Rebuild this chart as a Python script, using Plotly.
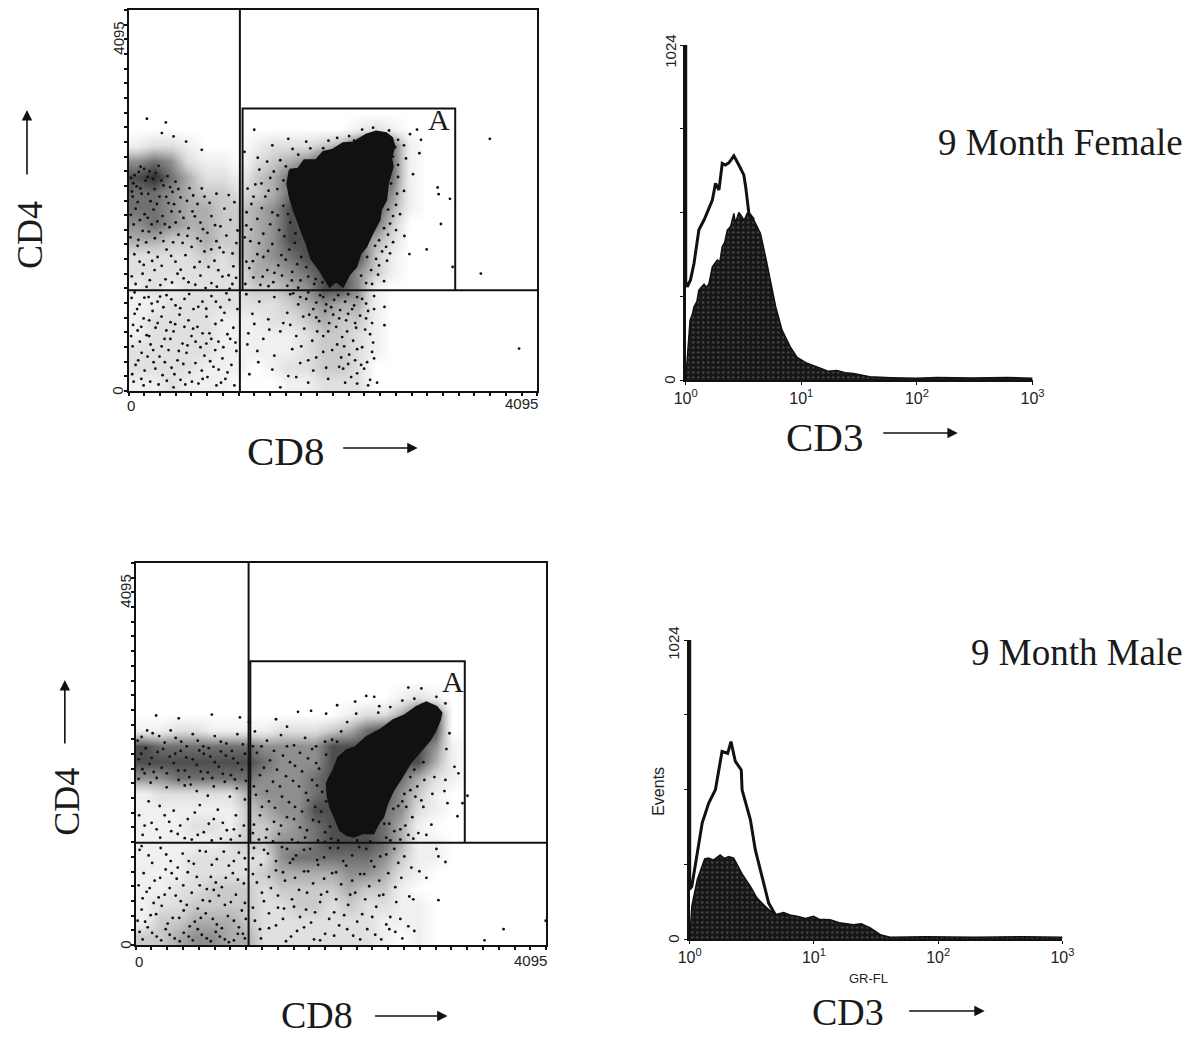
import plotly.graph_objects as go

# ---- data (channels 0-4095) ----
female_x_gate = 1115
female_y_gate = 1083
female_box = [1142, 3273, 3037]
male_x_gate = 1127
male_y_gate = 1096
male_box = [1144, 3283, 3042]

female_core_x = [1615,1700,1760,1881,1950,2040,2148,2250,2381,2480,2581,2640,2664,2630,2647,2600,2581,2530,2514,2440,2381,2320,2281,2210,2148,2080,2015,1960,1915,1830,1782,1740,1682,1650,1615,1590]
female_core_y = [2377,2390,2480,2484,2570,2590,2664,2670,2754,2790,2771,2720,2628,2510,2412,2240,2053,1950,1838,1690,1551,1470,1335,1250,1120,1180,1120,1220,1300,1420,1587,1700,1874,1960,2089,2230]
male_core_x = [1973,2020,2106,2190,2305,2430,2570,2680,2802,2900,3001,3050,3034,2990,2935,2840,2736,2650,2570,2510,2470,2420,2371,2270,2172,2100,2039,1990,1940,1915,1907,1935]
male_core_y = [1874,2010,2088,2120,2231,2300,2410,2460,2553,2600,2553,2490,2410,2300,2196,2080,1946,1790,1660,1520,1374,1300,1196,1200,1160,1180,1232,1360,1482,1600,1731,1800]

# ink density per cell (24 x 24), top row first
female_density = [
"","","","","","","",
"0000000000000121",
"12210001222347761",
"56521102345777761",
"78642213467777761",
"66543323467777751",
"66544334577777741",
"56544334577777630",
"44334334577776420",
"2222323456777731",
"2222222445677531",
"1212222334577510",
"1122222223454410",
"1222211122343310",
"1222211111233210",
"2222211111233210",
"2222111012233200",
"1121110001122200",
]
male_density = [
"","","","","","","","",
"000000000000000121",
"000000000000122477",
"112211112223467777",
"7666666555577777751",
"7777777655577777741",
"5566666555677776421",
"1222224555677775310",
"1111113455777765210",
"111221334567776410",
"111112335567776411",
"111222225666665311",
"111222234444554210",
"112233323333433100",
"122333322332322110",
"13344432222222111",
"33455442222222101",
]

female_dots = [
(183,2926),(373,2887),(333,2772),(450,2736),(576,2681),(733,2592),(1259,2808),(3620,2710),(2914,2556),(3097,2187),(3107,2115),(3220,2065),(3130,1795),(2764,1666),(2987,1522),(2814,1472),(3247,1334),(3530,1262),(2564,904),(2564,707),(3913,456),
(2700,2700),(2760,2640),(2820,2760),(2890,2810),(2930,2700),(2780,2500),(2850,2330),(2700,2300),(2760,2150),(2680,2000),(2720,1900),(2620,1800),(2600,1680),(2650,1600),(2540,1500),(2590,1400),(2480,1420),(2430,1300),(2500,1250),(2440,1150),(2560,1180),
(1440,2640),(1600,2710),(1780,2680),(1950,2610),(2090,2720),(1520,2480),(1700,2540),(1310,2380),(1420,2290),(1270,2220),(1490,2170),(1370,2090),(1230,2010),(1550,1990),(1440,1920),(1290,1850),(1180,1780),(1620,1810),(1510,1730),(1350,1690),(1220,1610),(1440,1580),(1610,1520),(1730,1440),(1290,1470),(1180,1390),(1500,1350),(1390,1300),(1640,1280),(1800,1230),(1250,1220),(1170,1150),(1450,1170),(1590,1130),(1700,1110),(1860,1150),(1320,1140),
(60,2320),(120,2410),(210,2360),(300,2420),(390,2310),(470,2250),(80,2200),(170,2260),(260,2170),(350,2210),(440,2140),(40,2090),(130,2120),(220,2040),(310,2090),(400,2020),(520,2080),(610,2180),(690,2010),(760,2090),(880,2120),(960,1960),(1060,2030),(70,1960),(160,1900),(250,1950),(340,1880),(430,1930),(550,1860),(640,1930),(720,1810),(830,1880),(920,1770),(1020,1840),(50,1790),(140,1720),(230,1790),(320,1700),(410,1760),(500,1680),(600,1750),(690,1640),(790,1700),(880,1610),(980,1670),(1080,1590),
(90,1560),(200,1490),(290,1440),(110,1390),(380,1520),(470,1390),(570,1460),(660,1330),(760,1500),(860,1400),(950,1490),(1050,1340),(140,1260),(260,1300),(370,1200),(490,1260),(600,1170),(720,1240),(830,1160),(940,1230),(1040,1150),(70,1150),(180,1120),
(30,1000),(110,930),(200,1010),(290,960),(380,1030),(470,920),(560,990),(650,880),(740,960),(830,1020),(920,900),(1010,980),(1090,880),(60,830),(150,780),(240,860),(330,800),(420,740),(510,820),(600,760),(690,690),(780,800),(870,720),(960,840),(1050,680),(90,650),(180,600),(270,680),(360,560),(450,640),(540,510),(630,590),(720,470),(810,620),(900,530),(990,610),(1080,430),(40,480),(130,410),(220,500),(310,370),(400,440),(490,330),(580,410),(670,300),(760,380),(850,260),(940,350),(1030,280),(70,280),(160,220),(250,310),(340,170),(430,250),(520,120),(610,200),(700,80),(790,150),(880,60),(970,130),(1060,60),(50,100),(150,60),(300,70),(450,40),
(1180,1040),(1310,960),(1460,1010),(1620,1040),(1780,990),(1920,1030),(2060,980),(2200,1040),(2340,990),(2460,1020),(1700,930),(1850,880),(1980,930),(2120,870),(2260,920),(2400,860),(1240,830),(1400,770),(1590,840),(1750,800),(1910,750),(2050,820),(2180,760),(2320,810),(2440,730),(1200,620),(1350,560),(1520,640),(1680,590),(1840,540),(2000,640),(2140,580),(2280,680),(2420,610),(1290,430),(1460,380),(1640,450),(1800,330),(1950,420),(2090,500),(2210,390),(2340,470),(2460,350),(1210,180),(1600,160),(1850,220),(2000,130),(2110,260),(2230,150),(2360,240),(2420,120),(2490,90),
]
female_dots_more = [
(25,2290),(47,2233),(102,2355),(155,2388),(189,2301),(243,2279),(271,2344),(328,2262),(416,2192),(498,2171),(33,2144),(91,2031),(118,2177),(197,2119),(283,2011),(377,2087),(455,2008),(585,2044),(647,2101),(733,2177),(812,2021),(1003,2106),
(22,1894),(113,1837),(191,1861),(203,1713),(288,1823),(362,1794),(472,1811),(513,1929),(589,1667),(664,1877),(745,1739),(866,1782),(1092,1725),(19,1652),(98,1625),(176,1598),(263,1642),(349,1611),(446,1598),(541,1592),(631,1548),(723,1611),(828,1522),(912,1541),(1041,1478),
(57,1470),(151,1355),(236,1398),(331,1345),(426,1452),(522,1303),(713,1388),(801,1333),(899,1299),(1002,1244),(1077,1216),(31,1232),(212,1191),(318,1138),(435,1166),(551,1211),(668,1142),(771,1106),(884,1121),(1012,1098),
(1161,2571),(1294,2507),(1388,2466),(1455,2359),(1576,2414),(1643,2601),(1821,2608),(2003,2690),(1192,2176),(1331,2231),(1552,2263),(1251,2089),(1402,2153),(1611,2129),(1182,1921),(1334,1966),(1495,1887),(1596,1902),(1228,1736),(1419,1791),(1561,1664),(1672,1695),(1163,1652),(1307,1588),(1398,1505),(1531,1461),(1666,1592),(1245,1395),(1350,1440),(1461,1269),(1575,1412),(1690,1363),(1780,1331),(1210,1321),(1343,1229),(1537,1241),(1722,1189),(1875,1204),(1402,1127),(1636,1189),(1943,1168),
(2650,2520),(2700,2430),(2630,2230),(2690,2120),(2600,1950),(2650,1880),(2560,1750),(2680,1730),(2510,1620),(2580,1550),(2470,1560),(2390,1440),(2330,1240),(2380,1160),(2510,1350),(2620,1480),(2670,2620),(2610,2800),(2340,2810),(2450,2830),(2210,2740),(2260,2690),
(60,1060),(85,880),(158,1003),(231,940),(315,1015),(349,900),(428,985),(517,890),(607,1042),(698,905),(778,884),(875,960),(980,1050),(45,710),(127,690),(206,760),(291,730),(378,650),(466,718),(559,690),(646,670),(741,620),(828,560),(934,760),(1018,560),(25,590),(112,530),(206,590),(246,440),(331,480),(418,560),(503,430),(590,490),(671,530),(779,510),(868,440),(949,470),(1071,520),(96,330),(190,370),(268,240),(363,310),(459,180),(548,290),(634,100),(733,220),(817,320),(902,230),(991,200),(36,180),(127,130),(216,100),(383,110),(568,70),(742,130),(926,90),
(1650,1050),(1720,1010),(1800,1060),(1880,950),(1950,1010),(2030,900),(2100,1030),(2170,960),(2240,880),(2290,1010),(2380,940),(1810,820),(1880,790),(1970,860),(2010,730),(2110,780),(2200,830),(2270,730),(2380,780),(2460,880),(1620,710),(1760,670),(1890,640),(1950,590),(2080,690),(2190,640),(2250,540),(2370,660),(2450,520),(1730,480),(1880,360),(2040,440),(2130,360),(2160,480),(2270,330),(2290,450),(2390,310),(2440,420),(2150,240),(2200,290),(2290,190),(2330,280),(2170,90),(2290,80),(2400,60),(1980,250),(1720,300),(1440,230),(1300,310),(1190,500),(1260,720),(1410,660),(1550,730),(1680,150),(1800,90),(1520,40)
]

male_dots = [
(205,2460),(430,2430),(760,2470),(1040,2440),(1130,2390),(1400,2420),(1620,2500),(1750,2510),(1900,2480),(2010,2570),(2300,2670),(2380,2660),(2720,2760),(2850,2750),(3000,2660),(3090,2590),(2190,2610),(2420,2490),(1510,2340),
(3130,2270),(3100,2100),(3180,1910),(3220,1840),(3090,1770),(3110,1520),(3260,1520),(3210,1380),(3080,1650),(2980,1800),(2960,1620),(2870,1480),(3310,1600),(3480,50),(3670,170),(4090,260),(3020,950),(3000,1030),(3090,890),(2830,790),(2900,720),(2770,490),(2730,520),(3020,480),(2720,200),(2780,150),
(60,2230),(170,2270),(290,2170),(400,2220),(510,2130),(620,2190),(730,2110),(850,2180),(960,2080),(1070,2150),(100,2110),(220,2070),(340,2020),(450,2080),(570,1990),(680,2050),(790,1960),(900,2030),(1020,1950),(30,1990),(140,1940),(260,1900),(380,1950),(490,1870),(610,1930),(720,1850),(830,1910),(950,1820),(1060,1880),(90,1840),(210,1790),(430,1770),(550,1720),(670,1780),(780,1700),(890,1750),(1010,1680),
(130,1540),(240,1490),(380,1440),(290,1390),(160,1310),(520,1350),(640,1500),(730,1300),(820,1450),(910,1230),(1000,1390),(1080,1280),(70,1180),(420,1190),(560,1130),(850,1140),(950,1130),
(1190,2290),(1310,2190),(1450,2250),(1580,2140),(1690,2220),(1800,2130),(1210,2060),(1340,1980),(1470,2030),(1590,1920),(1720,2000),(1830,1890),(1240,1820),(1370,1750),(1500,1810),(1630,1700),(1760,1770),(1860,1640),(1200,1610),(1330,1540),(1460,1590),(1590,1480),(1720,1550),(1850,1430),(1240,1390),(1380,1320),(1510,1370),(1640,1260),(1770,1340),(1890,1210),(1170,1200),(1300,1150),(1430,1190),(1560,1130),(1690,1150),(1820,1120),(1950,1140),
(2560,2060),(2660,2150),(2740,1800),(2680,1620),(2810,1700),(2620,1490),(2760,1370),(2530,1300),(2640,1240),(2850,1550),(2500,1150),(2720,1180),(2820,1200),(2950,1290),
(40,1020),(130,960),(250,1040),(350,900),(470,980),(580,870),(700,1000),(810,920),(930,850),(1030,990),(1100,810),(80,770),(190,690),(300,810),(410,710),(520,780),(640,640),(750,730),(860,620),(970,770),(1080,660),(110,570),(230,510),(340,610),(450,470),(560,560),(670,480),(780,590),(890,430),(1000,540),(1090,450),(60,380),(150,320),(260,420),(370,290),(480,370),(590,250),(700,340),(810,220),(920,310),(1030,190),(1100,280),(40,140),(120,190),(210,90),(300,170),(390,70),(480,130),(570,50),(660,110),(750,40),(840,90),(930,30),(1020,120),
(1180,1040),(1320,980),(1460,1050),(1600,960),(1740,1030),(1880,940),(2020,1040),(2160,960),(2300,1030),(2440,950),(2580,1030),(2680,950),(1250,860),(1400,800),(1540,880),(1680,790),(1820,860),(1960,770),(2100,850),(2240,760),(2380,840),(2520,770),(2650,720),(1210,670),(1350,610),(1490,690),(1630,590),(1770,660),(1910,570),(2050,650),(2190,560),(2330,630),(2470,540),(1280,470),(1420,400),(1560,490),(1700,380),(1840,460),(1980,350),(2120,430),(2260,330),(2400,410),(2540,300),(1190,260),(1330,180),(1470,280),(1610,150),(1750,240),(1890,120),(2030,210),(2170,100),(2310,170),(2450,60),(2590,140),(1250,70),(1500,40),(1780,60),
]
male_dots_more = [
(20,2190),(115,2300),(235,2240),(350,2300),(455,2180),(570,2260),(675,2130),(790,2240),(905,2160),(1015,2260),(55,2050),(160,2005),(275,2100),(395,2050),(505,2010),(635,2085),(745,2020),(850,2075),(975,2000),(1090,2050),(68,1885),(180,1855),(312,1840),(425,1870),(535,1800),(650,1860),(765,1790),(870,1835),(990,1775),(1100,1760),(30,1780),(150,1740),(310,1690),(490,1710),(610,1650),(720,1600),(940,1590),(1090,1560),
(35,1390),(90,1280),(210,1240),(335,1320),(445,1280),(590,1420),(680,1210),(780,1350),(870,1310),(980,1240),(1040,1170),(245,1150),(355,1220),(490,1145),(620,1180),(760,1120),
(1170,2130),(1255,2130),(1380,2080),(1510,2130),(1640,2060),(1760,2100),(1890,2180),(1280,1900),(1410,1880),(1540,1960),(1660,1860),(1800,1950),(1180,1700),(1310,1650),(1440,1700),(1570,1760),(1700,1630),(1810,1710),(1260,1480),(1390,1470),(1530,1530),(1660,1430),(1790,1480),(1900,1540),(1180,1290),(1310,1240),(1450,1280),(1580,1350),(1710,1230),(1830,1320),(1940,1270),(1230,1130),(1370,1110),(1620,1100),(1890,1105),(2020,1120),(2210,1120),(2340,1110),
(2610,1960),(2700,2050),(2780,1880),(2870,1960),(2640,1800),(2740,1660),(2880,1770),(2570,1720),(2660,1540),(2570,1460),(2700,1480),(2790,1590),(2480,1300),(2580,1220),(2690,1280),(2770,1140),(2900,1180),(2540,1120),(2640,1130),(2960,2330),(3040,2470),(2920,2460),(2860,2580),(2780,2640),(2660,2620),(2540,2550),(2430,2560),(2110,2390),(2200,2480),(2050,2290),(1960,2200),(1900,2040),(2010,2180),
(60,1060),(165,880),(305,970),(420,830),(530,900),(640,1010),(760,860),(880,1000),(980,900),(1090,930),(30,640),(140,610),(245,720),(360,770),(475,640),(610,730),(710,600),(800,670),(900,720),(1020,700),(70,500),(180,450),(290,540),(400,530),(510,430),(620,390),(740,470),(830,530),(950,460),(1060,370),(20,260),(95,250),(205,330),(320,230),(435,290),(540,200),(650,290),(770,280),(860,180),(980,260),(1070,120),(70,60),(165,130),(255,50),(340,110),(440,40),(530,90),(620,170),(710,70),(800,140),(890,60),(980,50),(1090,70),
(1170,930),(1280,1020),(1400,900),(1510,1030),(1570,920),(1680,1020),(1810,910),(1940,1040),(2070,900),(2230,1050),(2350,900),(2500,970),(2620,880),(2750,830),(1170,760),(1330,730),(1470,780),(1590,720),(1720,790),(1880,710),(2000,780),(2160,690),(2280,760),(2430,690),(2590,620),(1260,560),(1420,530),(1580,410),(1710,560),(1850,540),(2000,490),(2140,540),(2290,490),(2430,530),(2600,460),(1170,400),(1330,340),(1480,390),(1640,300),(1790,350),(1930,280),(2080,320),(2210,250),(2360,300),(2500,220),(2640,280),(1240,170),(1400,210),(1550,90),(1680,190),(1840,50),(1980,100),(2110,170),(2240,60),(2390,110),(2530,170),(2660,70)
]

female_open_x = [1.0,1.0,1.03,1.10,1.18,1.30,1.44,1.54,1.70,1.81,1.94,2.07,2.2,2.36,2.61,2.88,3.18,3.30,3.52,3.88]
female_open_y = [1024,300,285,306,357,459,489,515,550,601,581,662,657,664,685,657,627,591,509,489]
female_fill_x = [1.0,1.09,1.14,1.18,1.25,1.30,1.44,1.52,1.59,1.70,1.88,1.97,2.07,2.17,2.29,2.45,2.61,2.68,2.75,2.88,3.0,3.2,3.4,3.6,3.88,4.13,4.43,4.90,5.4,6.0,6.8,8.0,9.2,11.2,14.6,17,20.3,24,28.3,39,60,99,150,300,600,1000]
female_fill_y = [0,183,200,224,240,275,293,283,295,346,367,360,408,420,458,470,509,482,490,512,504,488,509,497,489,470,448,377,306,224,153,102,69,51,36,27,29,22,20,10,7,5,8,6,8,5]

male_open_x = [1.0,1.0,1.04,1.15,1.26,1.42,1.61,1.82,2.02,2.15,2.33,2.6,2.64,3.08,3.37,3.82,4.32,4.89]
male_open_y = [1024,170,180,294,397,465,511,642,636,676,608,579,511,408,306,214,123,83]
male_fill_x = [1.0,1.04,1.15,1.26,1.32,1.42,1.55,1.76,1.9,2.06,2.26,2.64,3.08,3.48,4.19,4.89,5.7,6.4,7.3,8.6,9.9,11,13.5,16,20.8,24,28.4,34.2,41,80,200,500,1000]
male_fill_y = [0,112,203,254,274,277,270,288,276,282,277,223,180,140,106,83,91,82,78,70,78,68,66,56,49,52,38,15,6,8,6,8,6]

density_scale = [[0,"#ffffff"],[.111,"#f0f0f0"],[.222,"#e0e0e0"],[.333,"#cacaca"],[.444,"#adadad"],
                 [.556,"#8f8f8f"],[.667,"#707070"],[.778,"#4e4e4e"],[.889,"#2e2e2e"],[1,"#111111"]]
INK = "#111111"
W, H = 1192, 1038
PLOT_W = 1172   # width the page gives the paper area
LEFT = 17       # measured page offset of the paper area
TOP = 8         # measured page offset

def fx(a): return (a - LEFT) / PLOT_W
def fy(a): return 1 - (a - TOP) / H
def px(a, b): return [fx(a), fx(b)]
def py(top, bottom): return [fy(bottom), fy(top)]

fig = go.Figure()

def scatter_panel(n, density, core_x, core_y, dots, gx, gy, box):
    xa, ya = f"x{n}", f"y{n}"
    rows = [[int(c) for c in r.ljust(24, "0")] for r in density][::-1]
    step = 4095 / 24
    fig.add_trace(go.Heatmap(z=rows, x0=step / 2, dx=step, y0=step / 2, dy=step, zmin=0, zmax=9,
                             colorscale=density_scale, zsmooth="best", showscale=False, hoverinfo="skip",
                             xaxis=xa, yaxis=ya))
    fig.add_trace(go.Scatter(x=core_x + core_x[:1], y=core_y + core_y[:1], fill="toself", fillcolor=INK, mode="lines",
                             line=dict(color=INK, width=2), hoverinfo="skip", xaxis=xa, yaxis=ya))
    fig.add_trace(go.Scatter(x=[d[0] for d in dots], y=[d[1] for d in dots], mode="markers",
                             marker=dict(color=INK, size=2.8), hoverinfo="skip", xaxis=xa, yaxis=ya))
    for lx, ly in [([gx, gx], [0, 4095]), ([0, 4095], [gy, gy]),
                   ([box[0], box[0], box[1], box[1]], [gy, box[2], box[2], gy])]:
        fig.add_trace(go.Scatter(x=lx, y=ly, mode="lines", line=dict(color=INK, width=2),
                                 hoverinfo="skip", xaxis=xa, yaxis=ya))

def hist_panel(n, ox, oy, fx_, fy_):
    xa, ya = f"x{n}", f"y{n}"
    fig.add_trace(go.Scatter(x=fx_, y=fy_, mode="lines", fill="tozeroy", fillcolor="#1c1c1c",
                             fillpattern=dict(shape=".", bgcolor="#161616", fgcolor="#8a8a8a", size=5, solidity=0.16),
                             line=dict(color="#111111", width=1.5), hoverinfo="skip", xaxis=xa, yaxis=ya))
    fig.add_trace(go.Scatter(x=ox, y=oy, mode="lines", line=dict(color=INK, width=3),
                             hoverinfo="skip", xaxis=xa, yaxis=ya))

scatter_panel(1, female_density, female_core_x, female_core_y, female_dots + female_dots_more, female_x_gate, female_y_gate, female_box)
hist_panel(2, female_open_x, female_open_y, female_fill_x, female_fill_y)
scatter_panel(3, male_density, male_core_x, male_core_y, male_dots + male_dots_more, male_x_gate, male_y_gate, male_box)
hist_panel(4, male_open_x, male_open_y, male_fill_x, male_fill_y)

step_tick = 4095 / 26
def sc_axes(): return dict(range=[0, 4095], showgrid=False, zeroline=False, showline=True, mirror=True,
                           linecolor=INK, linewidth=2, tickvals=[], ticks="",
                           minor=dict(tick0=0, dtick=step_tick, ticks="outside", ticklen=3, tickcolor=INK, tickwidth=1.5))
def hx_axes(): return dict(type="log", range=[0, 3], showgrid=False, zeroline=False, showline=True, linecolor=INK,
                           linewidth=2, ticks="outside", ticklen=3, tickcolor=INK, tickvals=[1, 10, 100, 1000],
                           ticktext=["10<sup>0</sup>", "10<sup>1</sup>", "10<sup>2</sup>", "10<sup>3</sup>"],
                           tickfont=dict(family="Liberation Sans", size=16, color="#222222"))
def hy_axes(): return dict(range=[0, 1024], showgrid=False, zeroline=False, showline=True, linecolor=INK, linewidth=3,
                           ticks="outside", ticklen=3, tickcolor=INK, tickvals=[0, 256, 512, 768, 1024],
                           showticklabels=False)

fig.update_layout(
    width=W, height=H, margin=dict(l=0, r=0, t=0, b=0), paper_bgcolor="white", plot_bgcolor="white", showlegend=False,
    xaxis=dict(domain=px(126, 536), anchor="y", showticklabels=False, **sc_axes()),
    yaxis=dict(domain=py(10, 391), anchor="x", showticklabels=False, **sc_axes()),
    xaxis2=dict(domain=px(685, 1033), anchor="y2", **hx_axes()),
    yaxis2=dict(domain=py(45, 380), anchor="x2", **hy_axes()),
    xaxis3=dict(domain=px(133, 545), anchor="y3", showticklabels=False, **sc_axes()),
    yaxis3=dict(domain=py(563, 945), anchor="x3", showticklabels=False, **sc_axes()),
    xaxis4=dict(domain=px(689, 1063), anchor="y4", **hx_axes()),
    yaxis4=dict(domain=py(640, 939), anchor="x4", **hy_axes()),
)

def text(s, x, y, size, family="Liberation Serif", angle=0, color="#1a1a1a", anchor="center"):
    fig.add_annotation(text=s, x=fx(x), y=fy(y), xref="paper", yref="paper", showarrow=False, textangle=angle,
                       font=dict(family=family, size=size, color=color), xanchor=anchor, yanchor="middle")

def arrow(x0, y0, x1, y1):
    fig.add_annotation(x=fx(x1), y=fy(y1), ax=x0 - x1, ay=y0 - y1, xref="paper", yref="paper", axref="pixel",
                       ayref="pixel", text="", showarrow=True, arrowhead=2, arrowsize=1.3, arrowwidth=1.6, arrowcolor=INK)

for s, x, y, a in [("4095", 115, 38, -90), ("0", 115, 391, -90), ("0", 128, 406, 0), ("4095", 520, 404, 0),
                   ("4095", 122, 591, -90), ("0", 122, 945, -90), ("0", 136, 961, 0), ("4095", 529, 960, 0),
                   ("1024", 669, 51, -90), ("0", 669, 380, -90), ("1024", 672, 643, -90), ("0", 672, 939, -90)]:
    text(s, x, y, 15, "Liberation Sans", a, "#222222")
text("Events", 657, 791, 16, "Liberation Sans", -90, "#222222")
text("GR-FL", 868, 978, 13, "Liberation Sans", 0, "#222222")
text("A", 437, 120, 30)
text("A", 451, 681, 30)
text("CD4", 27, 235, 36, angle=-90)
text("CD4", 64, 802, 36, angle=-90)
text("CD8", 283, 451, 41)
text("CD8", 315, 1015, 38)
text("CD3", 824, 437, 41)
text("CD3", 848, 1012, 38)
text("9 Month Female", 1186, 142, 37, anchor="right")
text("9 Month Male", 1186, 652, 37, anchor="right")
arrow(24, 176, 24, 110)
arrow(62, 745, 62, 680)
arrow(340, 448, 416, 448)
arrow(372, 1016, 446, 1016)
arrow(882, 433, 958, 433)
arrow(908, 1011, 985, 1011)

fig.write_html("out.html")
